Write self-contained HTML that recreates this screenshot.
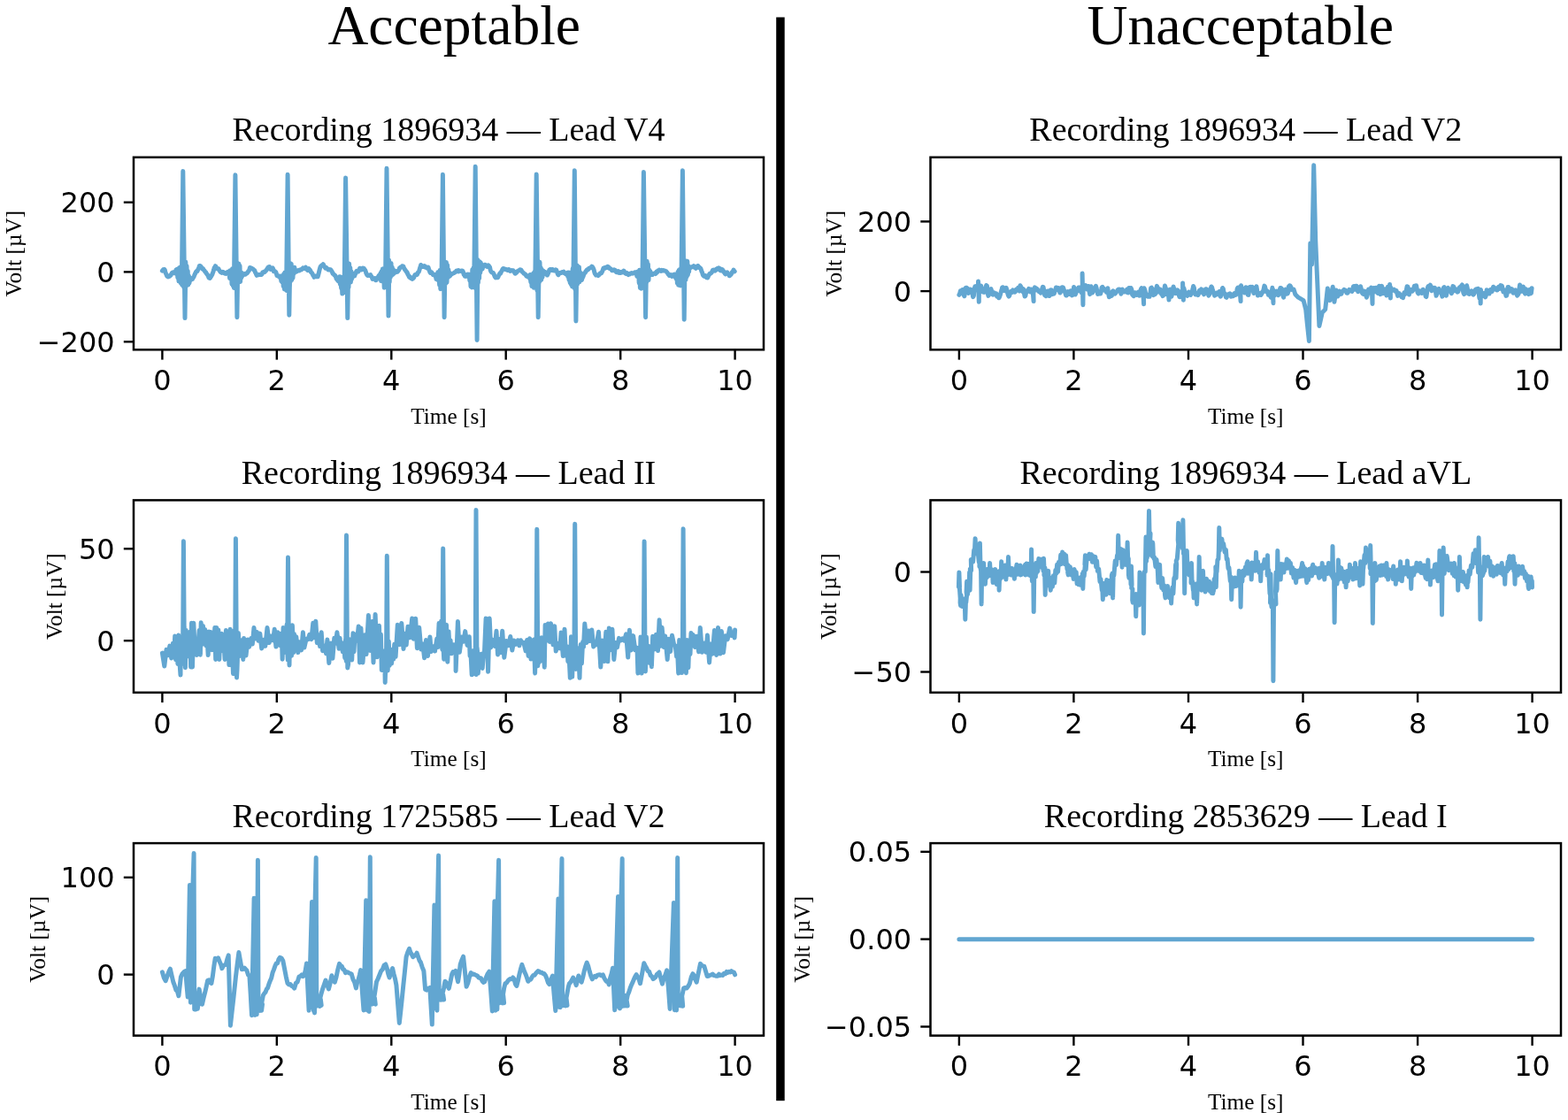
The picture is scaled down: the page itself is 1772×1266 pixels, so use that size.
<!DOCTYPE html>
<html><head><meta charset="utf-8"><title>ECG recordings: Acceptable vs Unacceptable</title>
<style>
html,body{margin:0;padding:0;background:#fff;overflow:hidden;}
svg{display:block;}
.t{font-family:'Liberation Serif', 'Times New Roman', serif;fill:#000;}
.n{font-family:'DejaVu Sans', 'Liberation Sans', sans-serif;fill:#000;font-size:32px;}
.sp{fill:none;stroke:#000;stroke-width:2.5;}
.tk{stroke:#000;stroke-width:2.4;}
.tr{fill:none;stroke:#62a6d1;stroke-width:5.0;stroke-linejoin:round;stroke-linecap:round;}
</style></head><body>
<svg width="1772" height="1266" viewBox="0 0 1772 1266">
<rect width="1772" height="1266" fill="#fff"/>

<text class="t" x="370.4" y="50" font-size="63.5">Acceptable</text>
<text class="t" x="1228.4" y="50" font-size="63.7">Unacceptable</text>
<rect x="877.2" y="19.5" width="9.5" height="1224.7" fill="#000"/>
<clipPath id="c0"><rect x="151.0" y="177.8" width="712.0" height="217.5"/></clipPath>
<path class="tr" clip-path="url(#c0)" d="M183.4 306.2L184.0 305.5L184.6 304.7L185.2 304.5L185.8 304.4L186.4 305.5L187.0 308.0L187.6 309.4L188.2 310.9L188.8 312.2L189.4 312.3L190.0 312.9L190.6 312.7L191.2 312.3L191.8 312.3L192.4 311.3L193.0 311.3L193.6 310.0L194.2 308.6L194.8 308.1L195.4 307.9L196.0 307.8L196.6 308.1L197.2 308.7L197.8 308.1L198.4 307.8L199.0 305.1L199.6 309.8L200.2 304.3L200.8 313.8L201.4 304.0L202.0 318.0L202.6 302.7L203.2 316.0L203.8 301.9L204.4 320.1L205.0 305.4L205.6 321.9L206.2 304.2L206.8 323.3L205.5 307.7L206.8 193.6L209.0 359.6L209.6 318.7L207.4 300.3L208.0 325.3L208.6 303.7L209.2 324.5L209.8 296.0L210.4 323.4L211.0 300.5L211.6 319.3L212.2 306.2L212.8 321.9L213.4 311.7L214.0 320.1L214.6 313.9L215.2 316.2L215.8 316.3L216.4 315.8L217.0 315.2L217.6 315.4L218.2 313.9L218.8 313.3L219.4 311.9L220.0 310.4L220.6 309.3L221.2 307.9L221.8 306.9L222.4 306.3L223.0 306.5L223.6 305.0L224.2 303.7L224.8 302.7L225.4 300.4L226.0 300.5L226.6 300.8L227.2 301.3L227.8 303.2L228.4 303.7L229.0 304.1L229.6 303.9L230.2 305.1L230.8 305.7L231.4 306.4L232.0 307.5L232.6 307.6L233.2 308.9L233.8 309.7L234.4 310.6L235.0 311.4L235.6 312.9L236.2 314.2L236.8 314.2L237.4 314.5L238.0 313.0L238.6 312.4L239.2 311.4L239.8 310.3L240.4 308.6L241.0 307.1L241.6 305.0L242.2 302.5L242.8 302.2L243.4 300.7L244.0 301.3L244.6 303.5L245.2 303.3L245.8 303.7L246.4 304.3L247.0 303.9L247.6 305.0L248.2 306.0L248.8 307.0L249.4 307.7L250.0 307.9L250.6 308.4L251.2 308.3L251.8 307.5L252.4 308.3L253.0 307.9L253.6 308.5L254.2 309.3L254.8 309.3L255.4 309.5L256.0 308.9L256.6 307.7L257.2 307.6L257.8 307.2L258.4 309.5L259.0 307.1L259.6 314.5L260.2 305.8L260.8 315.1L261.4 306.5L262.0 321.1L262.6 303.7L263.2 322.9L263.8 305.4L264.4 325.4L265.0 304.6L265.6 321.3L264.6 307.0L265.9 197.8L267.9 358.8L268.5 318.0L266.2 303.2L266.8 321.5L267.4 296.5L268.0 321.9L268.6 301.5L269.2 319.0L269.8 297.9L270.4 318.1L271.0 300.3L271.6 318.4L272.2 308.0L272.8 314.0L273.4 308.6L274.0 311.9L274.6 309.7L275.2 310.4L275.8 310.4L276.4 309.9L277.0 309.3L277.6 310.1L278.2 309.3L278.8 308.9L279.4 308.8L280.0 307.8L280.6 306.6L281.2 306.3L281.8 305.0L282.4 302.5L283.0 303.2L283.6 302.9L284.2 303.1L284.8 303.7L285.4 303.8L286.0 304.2L286.6 304.8L287.2 305.6L287.8 305.7L288.4 307.7L289.0 308.5L289.6 310.1L290.2 311.3L290.8 310.7L291.4 310.7L292.0 310.8L292.6 310.5L293.2 310.4L293.8 310.4L294.4 310.4L295.0 310.6L295.6 310.4L296.2 309.7L296.8 307.8L297.4 307.6L298.0 307.5L298.6 307.1L299.2 307.5L299.8 306.7L300.4 305.8L301.0 305.6L301.6 304.3L302.2 304.0L302.8 302.3L303.4 301.8L304.0 302.1L304.6 301.7L305.2 303.6L305.8 304.4L306.4 304.0L307.0 303.3L307.6 303.5L308.2 302.9L308.8 304.5L309.4 306.8L310.0 306.3L310.6 306.5L311.2 307.3L311.8 307.7L312.4 309.4L313.0 311.5L313.6 311.8L314.2 311.7L314.8 312.4L315.4 312.3L316.0 312.0L316.6 314.2L317.2 312.5L317.8 317.6L318.4 312.6L319.0 318.9L319.6 311.2L320.2 323.6L320.8 309.4L321.4 326.9L322.0 307.9L322.6 325.6L323.2 310.1L323.8 328.4L324.4 308.7L325.0 328.9L323.8 309.6L325.1 197.3L326.8 356.3L327.4 320.6L325.6 300.3L326.2 321.2L326.8 301.7L327.4 324.0L328.0 297.5L328.6 317.7L329.2 298.2L329.8 316.3L330.4 301.8L331.0 314.0L331.6 303.1L332.2 309.3L332.8 302.3L333.4 305.5L334.0 305.2L334.6 306.2L335.2 307.0L335.8 306.4L336.4 306.0L337.0 305.6L337.6 305.9L338.2 306.0L338.8 305.0L339.4 305.0L340.0 305.0L340.6 304.9L341.2 304.1L341.8 303.8L342.4 303.0L343.0 303.5L343.6 303.4L344.2 303.0L344.8 303.4L345.4 302.1L346.0 303.7L346.6 304.6L347.2 304.4L347.8 305.6L348.4 305.2L349.0 303.5L349.6 304.7L350.2 305.1L350.8 305.9L351.4 307.7L352.0 308.2L352.6 308.7L353.2 309.8L353.8 311.2L354.4 311.8L355.0 313.3L355.6 312.7L356.2 312.7L356.8 311.9L357.4 312.0L358.0 312.7L358.6 312.6L359.2 312.7L359.8 310.3L360.4 308.0L361.0 305.4L361.6 303.1L362.2 301.3L362.8 300.7L363.4 300.1L364.0 299.8L364.6 299.5L365.2 298.7L365.8 299.8L366.4 300.9L367.0 302.0L367.6 303.0L368.2 302.2L368.8 302.5L369.4 303.5L370.0 303.8L370.6 304.7L371.2 305.0L371.8 304.9L372.4 304.5L373.0 304.8L373.6 304.8L374.2 305.6L374.8 306.5L375.4 307.4L376.0 309.2L376.6 309.3L377.2 310.2L377.8 310.9L378.4 311.1L379.0 311.7L379.6 313.3L380.2 315.2L380.8 315.8L381.4 316.8L382.0 317.4L382.6 315.0L383.2 318.4L383.8 312.8L384.4 321.3L385.0 313.1L385.6 325.7L386.2 314.4L386.8 332.1L387.4 314.2L388.0 327.6L388.6 312.8L389.2 330.4L389.8 309.2L390.4 329.0L389.3 310.7L390.6 201.1L392.8 359.6L393.4 321.7L391.0 303.2L391.6 329.9L392.2 305.7L392.8 321.5L393.4 301.1L394.0 325.0L394.6 298.0L395.2 318.0L395.8 302.6L396.4 319.0L397.0 306.7L397.6 315.3L398.2 308.7L398.8 313.0L399.4 312.0L400.0 312.2L400.6 312.0L401.2 310.4L401.8 309.3L402.4 307.6L403.0 306.3L403.6 307.2L404.2 306.7L404.8 307.0L405.4 306.1L406.0 304.7L406.6 303.3L407.2 303.2L407.8 305.0L408.4 305.0L409.0 304.9L409.6 304.0L410.2 303.0L410.8 303.3L411.4 303.6L412.0 305.0L412.6 305.1L413.2 306.6L413.8 308.7L414.4 310.0L415.0 311.1L415.6 311.4L416.2 311.3L416.8 311.0L417.4 311.5L418.0 311.0L418.6 310.7L419.2 311.9L419.8 312.4L420.4 313.7L421.0 315.5L421.6 314.5L422.2 314.5L422.8 314.8L423.4 314.6L424.0 315.6L424.6 316.7L425.2 316.7L425.8 315.4L426.4 314.4L427.0 313.4L427.6 312.6L428.2 311.4L428.8 310.8L429.4 312.5L430.0 308.8L430.6 317.6L431.2 306.7L431.8 316.4L432.4 304.1L433.0 318.5L433.6 303.7L434.2 325.3L434.8 303.7L435.4 318.7L436.0 302.0L436.6 323.3L435.7 303.9L437.0 190.3L439.0 357.1L439.6 314.9L437.2 300.1L437.8 316.2L438.4 295.3L439.0 319.4L439.6 294.0L440.2 319.0L440.8 298.6L441.4 313.2L442.0 297.4L442.6 311.4L443.2 302.0L443.8 310.5L444.4 304.4L445.0 309.4L445.6 307.1L446.2 308.2L446.8 307.8L447.4 306.6L448.0 307.5L448.6 306.7L449.2 307.2L449.8 306.6L450.4 305.5L451.0 304.9L451.6 302.8L452.2 302.8L452.8 301.9L453.4 301.8L454.0 301.9L454.6 300.7L455.2 300.9L455.8 301.1L456.4 302.5L457.0 303.7L457.6 305.0L458.2 305.3L458.8 306.5L459.4 307.5L460.0 307.5L460.6 309.4L461.2 310.7L461.8 311.6L462.4 313.0L463.0 313.5L463.6 312.9L464.2 314.4L464.8 314.7L465.4 314.6L466.0 315.3L466.6 314.2L467.2 314.4L467.8 313.6L468.4 311.9L469.0 310.5L469.6 310.5L470.2 310.1L470.8 310.1L471.4 310.4L472.0 308.6L472.6 307.7L473.2 307.5L473.8 305.7L474.4 303.6L475.0 302.0L475.6 299.5L476.2 300.1L476.8 301.5L477.4 301.5L478.0 301.6L478.6 301.1L479.2 301.5L479.8 300.6L480.4 301.9L481.0 301.7L481.6 301.7L482.2 302.9L482.8 302.7L483.4 302.8L484.0 302.2L484.6 304.3L485.2 305.8L485.8 307.4L486.4 308.4L487.0 307.5L487.6 307.6L488.2 308.5L488.8 309.5L489.4 310.7L490.0 310.4L490.6 310.3L491.2 310.4L491.8 311.9L492.4 312.2L493.0 315.5L493.6 311.2L494.2 316.0L494.8 307.7L495.4 317.2L496.0 307.2L496.6 322.1L497.2 305.4L497.8 326.7L498.4 304.9L499.0 322.8L499.6 306.1L500.2 324.2L499.1 307.1L500.4 197.3L502.1 358.8L502.7 318.1L500.8 298.5L501.4 317.6L502.0 297.2L502.6 319.4L503.2 297.9L503.8 320.4L504.4 296.5L505.0 319.2L505.6 299.6L506.2 313.5L506.8 304.7L507.4 312.8L508.0 308.0L508.6 312.0L509.2 310.3L509.8 310.0L510.4 309.8L511.0 309.4L511.6 309.3L512.2 308.8L512.8 308.6L513.4 308.4L514.0 307.7L514.6 307.6L515.2 307.3L515.8 305.9L516.4 305.9L517.0 306.0L517.6 305.7L518.2 306.9L518.8 306.2L519.4 306.0L520.0 306.2L520.6 306.2L521.2 306.7L521.8 306.0L522.4 305.9L523.0 306.4L523.6 307.8L524.2 310.3L524.8 310.9L525.4 312.3L526.0 312.4L526.6 310.8L527.2 311.9L527.8 310.4L528.4 310.0L529.0 310.2L529.6 313.3L530.2 310.3L530.8 317.0L531.4 310.9L532.0 323.8L532.6 310.0L533.2 325.0L533.8 304.7L534.4 319.5L535.0 303.0L535.6 320.4L536.2 302.1L536.8 325.4L535.9 305.5L537.2 188.2L539.1 384.5L539.7 316.5L537.4 301.8L538.0 322.8L538.6 295.6L539.2 320.0L539.8 293.5L540.4 319.8L541.0 295.3L541.6 314.6L542.2 295.7L542.8 308.2L543.4 297.1L544.0 304.8L544.6 300.9L545.2 304.0L545.8 300.7L546.4 300.8L547.0 299.9L547.6 299.4L548.2 299.2L548.8 299.9L549.4 300.5L550.0 301.3L550.6 301.5L551.2 301.4L551.8 299.8L552.4 300.5L553.0 301.4L553.6 302.1L554.2 305.4L554.8 306.9L555.4 307.5L556.0 308.0L556.6 308.3L557.2 308.3L557.8 309.2L558.4 310.6L559.0 312.2L559.6 313.3L560.2 313.9L560.8 313.8L561.4 313.4L562.0 313.2L562.6 313.7L563.2 312.4L563.8 310.9L564.4 310.0L565.0 308.9L565.6 309.2L566.2 307.7L566.8 306.6L567.4 305.7L568.0 304.2L568.6 303.6L569.2 304.1L569.8 303.7L570.4 304.0L571.0 304.5L571.6 304.6L572.2 304.5L572.8 305.2L573.4 305.4L574.0 304.8L574.6 305.4L575.2 304.7L575.8 305.7L576.4 306.3L577.0 305.7L577.6 306.1L578.2 305.6L578.8 305.9L579.4 306.1L580.0 305.8L580.6 306.7L581.2 307.4L581.8 308.9L582.4 309.2L583.0 308.6L583.6 308.2L584.2 307.1L584.8 306.5L585.4 306.5L586.0 305.9L586.6 305.7L587.2 305.4L587.8 304.7L588.4 305.0L589.0 305.2L589.6 306.3L590.2 307.5L590.8 307.7L591.4 308.3L592.0 309.3L592.6 309.4L593.2 309.7L593.8 310.1L594.4 311.2L595.0 312.2L595.6 312.3L596.2 312.7L596.8 311.9L597.4 312.8L598.0 311.5L598.6 314.9L599.2 310.5L599.8 318.7L600.4 311.8L601.0 323.6L601.6 311.6L602.2 324.1L602.8 308.7L603.4 325.3L604.0 307.5L604.6 323.9L605.2 308.5L605.8 325.4L604.9 309.9L606.2 197.0L608.2 358.8L608.8 320.9L606.4 304.0L607.0 328.5L607.6 299.9L608.2 321.7L608.8 296.5L609.4 319.3L610.0 296.3L610.6 317.2L611.2 302.6L611.8 316.2L612.4 304.6L613.0 313.3L613.6 305.9L614.2 310.1L614.8 308.3L615.4 308.3L616.0 307.3L616.6 308.0L617.2 308.3L617.8 308.9L618.4 311.0L619.0 310.1L619.6 308.7L620.2 307.3L620.8 305.2L621.4 304.7L622.0 305.5L622.6 304.7L623.2 305.3L623.8 304.6L624.4 304.6L625.0 305.6L625.6 305.2L626.2 306.0L626.8 305.6L627.4 305.4L628.0 304.8L628.6 305.0L629.2 306.6L629.8 308.2L630.4 310.1L631.0 310.7L631.6 309.4L632.2 309.3L632.8 308.6L633.4 308.2L634.0 308.5L634.6 307.8L635.2 307.6L635.8 307.7L636.4 307.3L637.0 307.1L637.6 308.7L638.2 308.7L638.8 309.3L639.4 309.8L640.0 309.0L640.6 309.3L641.2 308.3L641.8 312.6L642.4 307.9L643.0 316.2L643.6 309.8L644.2 319.5L644.8 308.0L645.4 321.6L646.0 307.7L646.6 323.9L647.2 303.6L647.8 321.9L648.4 305.8L649.0 325.4L648.0 309.8L649.3 192.8L650.9 362.9L651.5 320.8L649.6 307.1L650.2 327.9L650.8 305.4L651.4 323.3L652.0 299.8L652.6 321.2L653.2 302.3L653.8 318.8L654.4 301.7L655.0 318.7L655.6 307.6L656.2 317.0L656.8 311.9L657.4 316.6L658.0 314.6L658.6 313.4L659.2 312.2L659.8 310.0L660.4 308.6L661.0 308.7L661.6 307.8L662.2 306.2L662.8 306.2L663.4 304.9L664.0 304.5L664.6 304.7L665.2 303.9L665.8 303.2L666.4 303.1L667.0 302.8L667.6 302.4L668.2 302.5L668.8 301.2L669.4 301.6L670.0 302.4L670.6 303.6L671.2 305.2L671.8 307.8L672.4 309.5L673.0 310.1L673.6 311.0L674.2 310.7L674.8 310.8L675.4 311.0L676.0 311.6L676.6 310.8L677.2 310.5L677.8 309.6L678.4 308.6L679.0 308.5L679.6 308.7L680.2 307.6L680.8 306.5L681.4 304.7L682.0 303.2L682.6 302.8L683.2 302.7L683.8 303.1L684.4 302.2L685.0 302.4L685.6 302.4L686.2 301.4L686.8 301.3L687.4 301.7L688.0 302.2L688.6 303.4L689.2 303.4L689.8 303.6L690.4 304.1L691.0 304.7L691.6 305.8L692.2 305.7L692.8 305.8L693.4 305.3L694.0 304.8L694.6 305.0L695.2 305.5L695.8 306.1L696.4 307.5L697.0 307.8L697.6 307.6L698.2 307.2L698.8 306.6L699.4 308.4L700.0 308.3L700.6 308.5L701.2 308.6L701.8 307.5L702.4 307.8L703.0 307.9L703.6 307.1L704.2 306.8L704.8 306.2L705.4 306.6L706.0 308.4L706.6 308.8L707.2 309.3L707.8 308.7L708.4 308.5L709.0 309.6L709.6 309.6L710.2 310.5L710.8 310.1L711.4 310.0L712.0 309.1L712.6 309.0L713.2 309.2L713.8 308.6L714.4 309.0L715.0 309.2L715.6 308.8L716.2 308.5L716.8 308.7L717.4 307.9L718.0 308.1L718.6 308.9L719.2 307.6L719.8 312.3L720.4 308.3L721.0 313.0L721.6 306.6L722.2 320.0L722.8 305.2L723.4 325.4L724.0 306.0L724.6 326.3L725.2 306.2L725.8 320.9L726.4 304.1L727.0 324.0L726.1 306.8L727.4 194.5L729.6 358.8L730.2 317.8L727.6 298.8L728.2 320.2L728.8 300.0L729.4 317.4L730.0 296.3L730.6 319.5L731.2 295.3L731.8 316.1L732.4 298.5L733.0 316.5L733.6 304.9L734.2 310.8L734.8 306.4L735.4 310.5L736.0 308.7L736.6 310.4L737.2 310.5L737.8 309.8L738.4 309.4L739.0 309.2L739.6 309.3L740.2 308.7L740.8 309.5L741.4 308.9L742.0 307.1L742.6 308.0L743.2 306.7L743.8 305.8L744.4 305.8L745.0 305.2L745.6 305.7L746.2 306.1L746.8 306.5L747.4 306.4L748.0 305.5L748.6 306.1L749.2 306.0L749.8 305.5L750.4 305.8L751.0 305.9L751.6 306.2L752.2 306.4L752.8 306.7L753.4 307.6L754.0 307.9L754.6 309.0L755.2 310.2L755.8 310.1L756.4 311.5L757.0 310.8L757.6 310.8L758.2 310.6L758.8 310.7L759.4 312.4L760.0 311.1L760.6 311.0L761.2 310.5L761.8 310.2L762.4 311.8L763.0 313.3L763.6 311.6L764.2 315.3L764.8 310.0L765.4 320.1L766.0 307.4L766.6 322.2L767.2 305.4L767.8 318.6L768.4 304.4L769.0 323.0L769.6 303.0L770.2 322.2L770.8 298.9L771.4 317.0L770.1 303.4L771.4 192.8L773.2 361.3L773.8 314.4L772.0 295.7L772.6 317.9L773.2 296.8L773.8 317.0L774.4 297.9L775.0 316.3L775.6 294.9L776.2 312.7L776.8 295.3L777.4 310.5L778.0 300.5L778.6 307.3L779.2 301.4L779.8 303.1L780.4 302.6L781.0 302.1L781.6 302.0L782.2 301.8L782.8 301.2L783.4 301.4L784.0 300.7L784.6 302.1L785.2 301.9L785.8 302.6L786.4 303.3L787.0 301.7L787.6 301.3L788.2 300.6L788.8 300.5L789.4 301.6L790.0 302.5L790.6 302.3L791.2 303.3L791.8 303.3L792.4 305.0L793.0 307.0L793.6 308.0L794.2 310.4L794.8 311.5L795.4 312.1L796.0 312.4L796.6 312.5L797.2 311.6L797.8 311.9L798.4 313.6L799.0 313.1L799.6 313.9L800.2 312.9L800.8 311.2L801.4 310.6L802.0 309.2L802.6 309.3L803.2 309.1L803.8 308.5L804.4 307.8L805.0 306.4L805.6 305.4L806.2 305.0L806.8 305.2L807.4 305.7L808.0 306.2L808.6 305.1L809.2 304.4L809.8 304.9L810.4 303.6L811.0 304.2L811.6 304.2L812.2 302.9L812.8 303.1L813.4 304.9L814.0 305.7L814.6 305.9L815.2 305.6L815.8 304.4L816.4 304.8L817.0 305.6L817.6 306.3L818.2 307.8L818.8 308.4L819.4 309.4L820.0 309.8L820.6 309.0L821.2 308.6L821.8 307.8L822.4 309.0L823.0 309.5L823.6 309.9L824.2 311.8L824.8 311.6L825.4 310.7L826.0 310.4L826.6 309.4L827.2 307.8L827.8 307.5L828.4 306.7L829.0 305.0L829.6 306.2L830.2 306.8"/>
<rect class="sp" x="151.0" y="177.8" width="712.0" height="217.5"/>
<text class="t" x="507.0" y="159.3" font-size="38" text-anchor="middle">Recording 1896934 — Lead V4</text>
<line class="tk" x1="183.4" y1="395.3" x2="183.4" y2="406.6"/>
<text class="n" x="183.4" y="441.1" text-anchor="middle">0</text>
<line class="tk" x1="312.8" y1="395.3" x2="312.8" y2="406.6"/>
<text class="n" x="312.8" y="441.1" text-anchor="middle">2</text>
<line class="tk" x1="442.3" y1="395.3" x2="442.3" y2="406.6"/>
<text class="n" x="442.3" y="441.1" text-anchor="middle">4</text>
<line class="tk" x1="571.7" y1="395.3" x2="571.7" y2="406.6"/>
<text class="n" x="571.7" y="441.1" text-anchor="middle">6</text>
<line class="tk" x1="701.2" y1="395.3" x2="701.2" y2="406.6"/>
<text class="n" x="701.2" y="441.1" text-anchor="middle">8</text>
<line class="tk" x1="830.6" y1="395.3" x2="830.6" y2="406.6"/>
<text class="n" x="830.6" y="441.1" text-anchor="middle">10</text>
<text class="t" x="507.0" y="478.6" font-size="25.3" text-anchor="middle">Time [s]</text>
<line class="tk" x1="139.8" y1="228.7" x2="151.0" y2="228.7"/>
<text class="n" x="129.6" y="240.3" text-anchor="end">200</text>
<line class="tk" x1="139.8" y1="307.4" x2="151.0" y2="307.4"/>
<text class="n" x="129.6" y="319.0" text-anchor="end">0</text>
<line class="tk" x1="139.8" y1="386.3" x2="151.0" y2="386.3"/>
<text class="n" x="129.6" y="397.9" text-anchor="end">−200</text>
<text class="t" font-size="25.3" text-anchor="middle" transform="translate(23.5,286.6) rotate(-90)">Volt [µV]</text>
<clipPath id="c1"><rect x="151.0" y="565.4" width="712.0" height="217.39999999999998"/></clipPath>
<path class="tr" clip-path="url(#c1)" d="M183.4 738.1L185.8 753.0L188.0 734.2L190.0 740.6L191.8 730.1L193.7 744.0L195.4 727.3L196.8 737.9L197.7 718.9L198.6 745.7L199.9 731.6L200.9 750.4L201.8 718.0L202.8 746.4L204.0 763.0L204.2 728.0L205.1 750.6L206.0 731.6L207.3 743.4L206.6 739.4L207.4 611.7L208.4 746.7L208.2 707.9L209.4 754.7L210.2 712.4L211.2 737.0L212.3 714.9L213.4 742.1L214.8 714.3L215.6 754.0L216.5 704.2L217.5 754.0L218.8 704.2L220.1 732.0L221.1 727.3L222.2 740.4L223.2 722.9L224.1 725.8L225.2 712.5L226.4 740.2L227.2 703.8L228.2 728.4L229.5 707.6L230.7 728.1L231.7 711.4L233.0 729.9L234.0 719.6L235.2 740.5L236.2 713.9L237.0 730.7L238.3 714.6L239.3 734.7L240.5 717.6L241.6 730.6L242.8 709.4L243.7 745.4L244.8 709.5L245.9 736.5L246.8 712.1L247.8 745.4L248.8 717.8L249.8 735.9L250.6 716.3L251.9 735.4L253.0 725.6L254.1 745.4L255.4 712.6L256.4 732.1L257.8 721.5L258.9 751.6L260.2 711.2L261.3 752.0L262.4 735.2L263.5 761.4L264.7 713.0L265.6 747.7L265.6 747.6L266.4 608.7L267.4 755.6L266.7 731.1L267.5 766.0L268.0 757.0L269.4 715.6L270.6 741.7L271.6 737.9L272.9 740.9L273.8 723.6L274.8 745.4L275.6 721.6L278.0 741.1L280.0 723.0L281.6 731.2L283.8 721.5L285.3 728.0L287.0 709.5L288.4 721.9L290.3 714.5L292.0 724.3L293.8 716.1L295.7 732.9L297.9 723.3L299.8 730.3L302.0 709.5L304.2 726.6L306.4 719.1L308.6 723.8L310.2 711.2L311.9 731.1L314.0 714.7L316.3 729.6L318.3 716.0L319.1 745.2L320.1 709.6L321.0 737.7L322.0 722.8L323.1 732.9L324.1 706.0L325.3 746.0L324.7 736.2L325.5 629.9L326.5 743.1L326.2 714.9L327.0 752.0L327.3 734.2L328.4 727.2L329.5 741.3L330.4 706.8L331.7 737.6L332.5 716.8L333.5 731.1L334.8 719.8L336.8 737.6L338.2 725.7L340.6 734.9L342.4 714.7L343.9 732.0L346.1 722.3L348.2 722.7L349.8 717.3L351.9 722.6L353.8 704.2L355.1 720.8L356.8 702.2L358.3 726.7L360.1 717.9L361.6 730.6L363.2 714.7L364.6 735.7L366.2 729.8L368.5 738.6L369.9 723.1L371.8 749.5L374.0 726.9L375.9 744.2L377.8 721.3L379.3 727.4L380.9 714.7L383.1 733.2L384.1 721.3L385.0 732.9L386.1 726.5L387.3 736.7L388.6 726.9L389.7 743.5L390.6 722.3L391.4 747.7L390.7 743.2L391.5 605.1L392.5 748.6L392.6 724.9L392.8 755.0L393.6 751.1L394.7 722.4L395.5 739.1L396.4 734.6L397.7 746.0L399.0 715.7L400.0 736.7L401.1 717.1L403.5 724.2L405.2 708.0L406.5 748.9L407.9 709.9L410.0 748.9L412.3 717.8L414.0 739.5L416.4 695.6L418.2 735.4L420.6 702.6L422.0 748.9L424.1 694.4L426.1 742.8L428.5 707.3L429.4 738.8L430.4 717.1L431.3 757.5L432.7 743.5L433.7 757.9L434.6 735.7L435.2 771.5L435.9 749.3L437.0 734.8L436.5 748.8L437.3 628.2L438.3 755.4L438.2 757.9L439.3 724.9L440.2 752.3L441.6 738.9L442.6 749.9L443.7 733.9L444.7 745.0L445.7 728.3L447.1 742.3L449.3 706.2L451.5 728.7L453.8 704.5L456.0 733.6L457.6 716.2L459.2 729.0L461.0 708.3L463.2 720.8L465.7 699.0L467.3 722.2L469.7 699.2L471.4 732.7L473.7 709.2L475.9 734.0L477.8 728.0L479.6 743.7L481.5 723.5L483.5 741.5L485.9 720.0L487.3 736.5L489.2 730.7L491.5 736.0L493.7 722.1L494.8 731.6L496.1 704.4L497.4 729.9L498.7 701.9L499.7 733.1L499.9 734.3L500.7 620.0L501.7 742.1L500.7 725.4L501.7 745.2L502.5 721.2L503.6 745.0L504.5 706.3L505.8 748.2L507.0 713.7L508.1 734.5L509.1 723.8L510.3 738.8L512.7 728.8L515.0 732.7L515.1 758.4L517.4 702.5L519.3 737.3L521.7 720.1L523.8 725.1L525.7 713.6L528.1 729.5L530.3 719.8L531.1 741.3L532.2 742.8L533.2 762.8L534.5 735.7L535.5 761.6L536.8 739.4L537.2 749.0L538.0 576.6L539.0 754.9L538.1 762.5L539.1 731.9L540.3 744.0L540.3 761.0L541.6 743.1L542.8 744.8L543.9 739.3L545.2 755.4L546.5 738.3L547.4 738.0L549.1 699.0L551.0 739.8L551.6 759.3L553.2 699.0L554.7 731.9L557.0 723.4L559.3 730.4L561.0 713.3L562.5 739.9L564.1 722.6L565.9 737.7L567.7 713.3L569.8 743.2L572.2 724.5L574.6 729.7L576.8 719.5L578.8 735.0L580.8 724.0L583.0 728.3L585.3 723.8L586.9 729.8L588.5 723.7L589.8 726.6L591.8 726.2L594.1 735.8L595.6 723.5L597.1 741.4L598.6 721.7L600.0 745.0L601.2 730.2L602.4 739.4L603.4 723.0L604.3 750.3L604.6 761.0L605.5 731.4L606.3 745.3L606.0 746.6L606.8 598.3L607.8 752.8L607.3 728.6L608.5 749.8L609.8 740.4L611.0 747.3L612.1 720.7L613.0 741.7L614.1 733.7L615.3 754.2L616.1 706.6L617.8 724.2L619.4 705.1L621.2 725.4L622.5 704.7L625.0 728.7L626.7 707.7L628.2 736.1L630.6 727.4L632.8 732.8L634.1 714.9L636.3 741.5L638.0 711.2L639.5 741.3L641.0 730.7L641.8 747.7L643.1 742.1L644.3 766.3L644.5 766.3L645.4 719.8L646.7 765.1L647.6 731.1L648.5 755.8L649.7 734.1L648.9 749.4L649.7 592.2L650.7 756.6L650.7 744.5L651.6 740.4L652.8 755.0L653.6 732.8L655.0 766.3L656.2 728.6L657.4 749.9L658.6 725.6L659.5 731.4L660.8 704.9L663.0 726.4L665.2 713.0L666.7 724.6L668.8 711.9L670.7 731.0L672.8 726.6L674.1 728.9L676.5 714.3L678.8 754.1L680.8 723.9L682.9 747.6L684.8 714.3L686.9 747.8L688.3 709.9L689.8 734.8L691.9 711.2L693.8 745.4L695.7 726.6L697.5 731.7L699.5 721.4L701.2 724.2L703.4 721.8L705.4 724.2L707.6 716.8L709.7 743.1L711.4 712.3L713.2 735.0L715.6 718.6L717.9 734.8L720.0 732.4L720.9 761.0L722.1 738.2L723.0 757.2L724.0 719.9L725.2 761.0L726.2 719.9L727.1 741.5L727.3 746.6L728.1 612.0L729.1 752.8L728.4 735.4L729.4 759.0L730.4 719.9L731.7 744.4L733.0 730.2L734.2 749.5L735.4 735.2L736.4 753.7L737.7 719.2L740.0 733.9L741.5 717.2L743.5 735.6L745.1 700.8L746.7 730.3L748.1 709.2L750.1 731.4L751.7 718.9L754.2 745.4L755.7 722.3L757.6 736.6L759.5 718.2L761.8 729.2L763.2 729.8L764.6 742.3L765.5 734.0L766.7 761.0L767.7 723.4L768.7 752.3L769.7 734.0L770.5 760.6L771.8 737.7L771.3 747.8L772.1 597.8L773.1 753.5L772.9 753.7L774.1 727.3L775.4 760.7L776.7 723.4L777.9 754.7L778.8 727.7L780.0 739.4L781.0 715.5L781.9 730.5L783.3 717.6L785.5 731.5L787.3 719.2L789.6 736.8L791.3 709.5L793.4 737.3L795.9 727.0L798.0 737.3L799.4 718.1L801.6 748.9L803.2 728.0L805.2 739.1L807.4 712.5L809.6 740.4L811.5 709.5L813.8 739.1L815.4 713.6L817.5 737.8L819.8 718.8L822.2 722.6L824.7 710.1L826.9 718.5L828.7 715.2L830.1 720.9L830.6 712.0"/>
<rect class="sp" x="151.0" y="565.4" width="712.0" height="217.4"/>
<text class="t" x="507.0" y="546.9" font-size="38" text-anchor="middle">Recording 1896934 — Lead II</text>
<line class="tk" x1="183.4" y1="782.8" x2="183.4" y2="794.1"/>
<text class="n" x="183.4" y="828.6" text-anchor="middle">0</text>
<line class="tk" x1="312.8" y1="782.8" x2="312.8" y2="794.1"/>
<text class="n" x="312.8" y="828.6" text-anchor="middle">2</text>
<line class="tk" x1="442.3" y1="782.8" x2="442.3" y2="794.1"/>
<text class="n" x="442.3" y="828.6" text-anchor="middle">4</text>
<line class="tk" x1="571.7" y1="782.8" x2="571.7" y2="794.1"/>
<text class="n" x="571.7" y="828.6" text-anchor="middle">6</text>
<line class="tk" x1="701.2" y1="782.8" x2="701.2" y2="794.1"/>
<text class="n" x="701.2" y="828.6" text-anchor="middle">8</text>
<line class="tk" x1="830.6" y1="782.8" x2="830.6" y2="794.1"/>
<text class="n" x="830.6" y="828.6" text-anchor="middle">10</text>
<text class="t" x="507.0" y="866.1" font-size="25.3" text-anchor="middle">Time [s]</text>
<line class="tk" x1="139.8" y1="620.3" x2="151.0" y2="620.3"/>
<text class="n" x="129.6" y="631.9" text-anchor="end">50</text>
<line class="tk" x1="139.8" y1="724.2" x2="151.0" y2="724.2"/>
<text class="n" x="129.6" y="735.8" text-anchor="end">0</text>
<text class="t" font-size="25.3" text-anchor="middle" transform="translate(70.4,674.1) rotate(-90)">Volt [µV]</text>
<clipPath id="c2"><rect x="151.0" y="953.1" width="712.0" height="217.4999999999999"/></clipPath>
<path class="tr" clip-path="url(#c2)" d="M183.4 1098.8L185.3 1105.3L187.2 1108.7L188.5 1105.0L189.8 1101.1L191.1 1097.7L192.4 1095.2L194.1 1102.7L195.8 1110.0L197.3 1113.9L198.9 1119.1L200.4 1120.4L201.9 1125.8L204.4 1104.2L206.1 1100.6L207.9 1098.7L209.6 1097.6L212.2 1127.0L214.4 1000.6L214.9 1003.4L215.4 1133.3L215.9 1002.5L216.4 1128.3L216.9 1003.1L217.4 1129.2L217.9 1002.7L219.1 964.5L219.7 1141.0L220.6 1129.3L221.5 1140.9L222.4 1130.2L223.3 1140.3L224.2 1133.9L221.7 1139.1L223.4 1128.9L225.1 1118.1L226.8 1127.6L228.5 1135.2L230.0 1128.5L231.6 1122.2L233.1 1115.6L234.6 1108.4L236.0 1107.9L237.5 1109.6L238.9 1111.5L240.3 1103.7L241.8 1092.2L243.2 1083.3L244.9 1084.5L246.6 1082.8L248.0 1086.7L249.5 1089.8L250.9 1094.7L252.3 1091.7L253.8 1090.9L255.2 1090.4L256.7 1084.6L258.2 1079.9L260.4 1159.2L262.1 1144.0L263.8 1129.2L266.4 1104.4L268.1 1090.3L269.9 1076.6L271.6 1086.3L273.3 1095.7L274.7 1095.6L276.2 1094.1L277.6 1095.5L279.0 1097.2L280.5 1101.9L281.9 1102.9L283.2 1123.8L284.5 1147.7L287.1 1015.3L287.6 1016.3L288.1 1147.4L288.6 1016.0L289.2 1146.0L289.7 1019.2L290.2 1146.8L291.4 972.2L292.0 1141.7L292.9 1130.8L293.8 1142.4L294.7 1137.2L295.6 1142.3L296.5 1135.1L294.0 1141.2L295.7 1133.9L297.4 1125.1L298.7 1122.9L300.0 1121.5L301.3 1118.2L302.6 1116.6L304.0 1112.1L305.4 1108.4L306.7 1105.5L308.1 1099.4L309.5 1095.8L310.9 1091.8L312.2 1088.9L313.6 1088.9L314.9 1084.4L316.3 1082.3L318.1 1083.0L319.8 1086.0L321.5 1094.8L323.3 1104.1L325.0 1111.5L326.5 1112.9L328.1 1112.6L329.6 1114.5L331.2 1115.2L332.7 1117.1L334.4 1111.2L336.2 1109.9L337.9 1104.1L339.4 1103.4L340.9 1101.9L342.4 1103.7L343.9 1101.9L345.2 1096.9L346.5 1088.9L347.8 1116.6L349.1 1142.3L352.5 1019.6L353.0 1023.5L353.5 1139.4L354.0 1023.6L354.5 1142.7L355.0 1021.5L355.5 1144.9L356.0 1022.7L357.2 969.6L357.8 1137.3L358.7 1131.4L359.6 1136.4L360.5 1128.3L361.4 1137.4L362.3 1129.2L363.2 1136.4L360.3 1135.2L361.7 1128.6L363.2 1122.7L364.6 1117.9L366.3 1113.0L368.0 1108.0L369.7 1113.3L371.4 1118.0L373.1 1111.6L374.9 1102.7L376.6 1107.9L378.3 1110.2L380.0 1104.5L381.8 1095.8L383.5 1089.3L384.9 1091.6L386.3 1092.2L387.6 1095.5L389.0 1096.2L390.4 1099.6L391.8 1098.7L393.2 1099.0L394.5 1099.9L395.9 1100.3L397.3 1101.2L399.0 1107.1L400.7 1110.3L402.4 1116.9L403.7 1110.6L405.0 1107.3L406.3 1102.3L407.6 1096.6L409.3 1119.9L411.0 1141.9L413.7 1017.8L414.3 1021.5L414.8 1141.8L415.4 1019.6L416.0 1142.5L416.5 1018.9L417.1 1143.5L418.3 968.8L418.9 1135.5L419.8 1129.6L420.7 1135.0L421.6 1126.3L422.5 1134.6L423.4 1127.9L424.3 1135.2L421.7 1133.7L423.6 1122.5L425.5 1109.8L427.2 1106.2L429.0 1101.7L430.7 1097.4L432.4 1095.7L434.1 1091.1L435.8 1090.0L437.2 1094.0L438.7 1100.7L440.1 1105.0L441.9 1098.7L443.6 1094.5L445.0 1100.9L446.5 1106.3L447.9 1113.4L449.6 1134.7L451.3 1156.4L452.7 1143.9L454.2 1129.8L455.6 1115.8L457.4 1098.5L459.1 1081.6L460.8 1076.3L462.5 1072.4L463.9 1076.5L465.4 1079.1L466.8 1081.7L468.2 1080.0L469.7 1079.9L471.1 1077.2L472.5 1081.3L474.0 1085.7L475.4 1087.7L477.1 1093.1L478.9 1097.5L480.6 1118.5L482.3 1119.1L484.1 1117.2L485.8 1116.4L488.3 1158.1L490.9 1023.0L491.4 1026.7L491.9 1140.1L492.4 1025.1L492.9 1137.1L493.4 1023.6L493.9 1142.2L494.4 1026.7L495.6 967.1L496.2 1129.6L497.1 1125.4L498.0 1130.3L498.9 1123.2L499.8 1129.9L500.7 1124.2L501.6 1130.0L498.7 1128.5L500.1 1122.8L501.6 1116.8L503.0 1109.3L504.4 1110.7L505.9 1114.5L507.3 1117.3L509.0 1109.6L510.7 1101.2L512.1 1098.5L513.6 1099.5L515.0 1097.3L516.3 1104.2L517.6 1109.7L518.9 1101.2L520.2 1090.0L521.9 1085.2L523.6 1081.2L525.4 1098.1L527.1 1115.2L528.8 1111.3L530.5 1104.4L532.2 1099.5L533.7 1101.4L535.1 1101.0L536.5 1101.6L538.0 1102.4L539.5 1103.0L540.9 1104.9L542.3 1105.6L543.6 1105.8L545.0 1108.9L546.3 1110.4L547.7 1109.8L549.4 1104.7L551.2 1100.6L552.9 1098.2L554.6 1119.0L556.3 1142.9L558.9 1018.7L559.4 1019.6L559.9 1142.2L560.4 1020.3L560.9 1137.5L561.4 1021.2L561.9 1140.9L562.4 1020.2L563.6 972.2L564.2 1134.0L565.1 1127.8L566.0 1132.7L566.9 1122.4L567.8 1133.9L568.7 1124.8L569.6 1133.8L566.7 1132.3L568.1 1126.8L569.6 1117.1L571.0 1111.6L572.4 1111.1L573.9 1108.8L575.3 1107.3L576.7 1106.4L578.2 1106.7L579.6 1105.0L581.0 1106.6L582.5 1112.5L583.9 1114.4L585.4 1108.6L586.9 1101.6L588.4 1095.5L589.9 1090.4L591.3 1094.7L592.7 1098.4L594.0 1101.2L595.4 1105.0L596.8 1109.3L598.3 1107.5L599.8 1107.2L601.3 1104.3L602.8 1102.4L604.1 1102.3L605.4 1100.4L606.7 1099.0L608.0 1097.6L609.4 1098.1L610.8 1099.3L612.1 1099.2L613.5 1100.5L614.9 1100.4L616.4 1102.4L617.9 1105.9L619.4 1110.7L620.9 1112.6L622.6 1107.5L624.4 1103.1L626.1 1123.8L627.8 1142.4L630.9 1016.1L631.5 1016.2L632.1 1138.4L632.6 1018.6L633.2 1138.8L633.8 1019.6L635.0 970.5L635.6 1136.7L636.5 1127.6L637.4 1136.4L638.3 1127.8L639.2 1137.1L640.1 1128.7L641.0 1136.5L638.1 1135.5L639.4 1131.0L640.8 1123.8L642.1 1116.4L643.4 1111.7L644.8 1110.3L646.3 1107.8L647.7 1105.0L649.5 1108.6L651.2 1113.6L653.8 1103.0L655.5 1107.7L657.2 1110.1L658.7 1104.6L660.2 1097.7L661.7 1092.3L663.2 1088.2L664.7 1092.0L666.2 1097.8L667.8 1103.2L669.3 1106.8L670.7 1104.6L672.1 1103.3L673.4 1104.3L674.8 1102.6L676.2 1101.9L677.9 1101.7L679.6 1102.8L681.3 1101.8L682.7 1105.3L684.1 1107.7L685.4 1109.3L686.8 1109.1L688.2 1112.9L689.6 1105.5L691.1 1100.7L692.5 1094.3L694.7 1141.8L698.5 1013.5L699.0 1014.1L699.5 1138.7L700.0 1014.6L700.5 1139.9L701.0 1014.4L701.5 1138.6L702.0 1014.8L703.2 970.5L703.8 1137.3L704.7 1127.1L705.6 1137.1L706.5 1125.5L707.4 1136.9L708.3 1131.3L709.2 1137.0L706.3 1135.7L707.8 1132.3L709.3 1124.7L710.8 1121.3L712.3 1116.4L713.7 1113.1L715.1 1110.2L716.4 1106.8L717.8 1103.9L719.2 1101.7L720.6 1104.2L722.1 1107.1L723.5 1111.7L724.9 1104.2L726.4 1096.2L727.8 1088.7L729.3 1091.9L730.7 1094.3L732.2 1097.8L733.7 1098.4L735.2 1102.7L736.6 1103.6L738.1 1106.6L739.5 1105.6L740.9 1104.5L742.2 1101.7L743.6 1100.4L745.0 1099.0L746.8 1106.0L748.5 1112.2L750.2 1105.9L751.9 1102.1L753.6 1096.9L755.4 1117.4L757.1 1140.4L761.4 1020.4L761.9 1022.6L762.4 1141.8L763.0 1021.5L763.5 1139.9L764.0 1022.0L764.5 1142.1L765.7 969.6L766.3 1137.0L767.2 1130.2L768.1 1136.7L769.0 1126.0L769.9 1137.0L770.8 1126.8L771.7 1137.2L769.1 1135.1L770.9 1125.1L772.6 1116.9L774.3 1116.5L776.0 1117.0L777.7 1114.7L779.4 1111.7L781.2 1104.6L782.9 1100.7L784.3 1102.7L785.8 1107.1L787.2 1110.2L788.6 1103.0L790.1 1095.9L791.5 1089.4L792.9 1091.1L794.4 1091.9L795.8 1092.1L797.5 1097.9L799.2 1103.4L800.7 1103.2L802.2 1102.4L803.8 1102.1L805.3 1101.0L806.7 1102.6L808.2 1102.9L809.6 1103.3L811.0 1103.2L812.5 1101.1L813.9 1102.6L815.3 1101.9L816.8 1102.5L818.2 1100.3L819.6 1100.8L821.1 1098.5L822.5 1099.4L823.9 1098.3L825.3 1098.9L826.6 1097.7L828.0 1098.8L829.4 1098.9L830.6 1101.8"/>
<rect class="sp" x="151.0" y="953.1" width="712.0" height="217.5"/>
<text class="t" x="507.0" y="934.6" font-size="38" text-anchor="middle">Recording 1725585 — Lead V2</text>
<line class="tk" x1="183.4" y1="1170.6" x2="183.4" y2="1181.9"/>
<text class="n" x="183.4" y="1216.4" text-anchor="middle">0</text>
<line class="tk" x1="312.8" y1="1170.6" x2="312.8" y2="1181.9"/>
<text class="n" x="312.8" y="1216.4" text-anchor="middle">2</text>
<line class="tk" x1="442.3" y1="1170.6" x2="442.3" y2="1181.9"/>
<text class="n" x="442.3" y="1216.4" text-anchor="middle">4</text>
<line class="tk" x1="571.7" y1="1170.6" x2="571.7" y2="1181.9"/>
<text class="n" x="571.7" y="1216.4" text-anchor="middle">6</text>
<line class="tk" x1="701.2" y1="1170.6" x2="701.2" y2="1181.9"/>
<text class="n" x="701.2" y="1216.4" text-anchor="middle">8</text>
<line class="tk" x1="830.6" y1="1170.6" x2="830.6" y2="1181.9"/>
<text class="n" x="830.6" y="1216.4" text-anchor="middle">10</text>
<text class="t" x="507.0" y="1253.9" font-size="25.3" text-anchor="middle">Time [s]</text>
<line class="tk" x1="139.8" y1="991.8" x2="151.0" y2="991.8"/>
<text class="n" x="129.6" y="1003.4" text-anchor="end">100</text>
<line class="tk" x1="139.8" y1="1101.6" x2="151.0" y2="1101.6"/>
<text class="n" x="129.6" y="1113.2" text-anchor="end">0</text>
<text class="t" font-size="25.3" text-anchor="middle" transform="translate(50.8,1061.8) rotate(-90)">Volt [µV]</text>
<clipPath id="c3"><rect x="1051.5" y="177.8" width="712.5" height="217.5"/></clipPath>
<path class="tr" clip-path="url(#c3)" d="M1083.9 333.3L1084.6 332.1L1085.4 328.7L1086.1 329.6L1086.9 330.7L1087.6 327.5L1088.4 327.5L1089.1 333.6L1089.9 334.7L1090.6 326.4L1091.4 325.4L1092.1 325.2L1092.9 325.5L1093.6 329.3L1094.4 331.4L1095.1 328.5L1095.9 327.1L1096.6 327.1L1097.4 327.4L1098.1 327.8L1098.9 331.8L1099.6 335.6L1100.4 334.4L1101.1 326.6L1101.9 323.8L1102.6 324.0L1103.4 323.5L1104.1 323.1L1104.9 326.5L1105.6 329.5L1105.5 318.0L1106.3 341.3L1106.4 327.7L1107.1 324.2L1107.9 322.9L1108.6 322.9L1109.4 326.0L1110.1 329.3L1110.9 330.0L1111.6 328.8L1112.4 330.3L1113.1 329.7L1113.9 325.4L1114.6 322.5L1115.4 323.0L1116.1 331.2L1116.9 334.4L1117.6 333.1L1118.4 331.0L1119.1 328.2L1119.9 326.5L1120.6 328.6L1121.4 332.5L1122.1 333.1L1122.9 330.6L1123.6 330.8L1124.4 332.8L1125.1 331.8L1125.9 331.8L1126.6 335.1L1127.4 334.4L1128.1 333.5L1128.9 336.8L1129.6 335.5L1130.4 333.1L1131.1 330.6L1131.9 328.0L1132.6 325.0L1133.4 324.8L1134.1 328.4L1134.9 327.9L1135.6 328.6L1136.4 327.6L1137.1 325.3L1137.9 328.0L1138.6 331.0L1139.4 333.8L1140.1 335.1L1140.9 334.0L1141.6 331.1L1142.4 329.5L1143.1 330.1L1143.9 330.5L1144.6 327.9L1145.4 328.5L1146.1 329.9L1146.9 330.3L1147.6 329.4L1148.4 327.1L1149.1 327.2L1149.9 327.8L1150.6 325.2L1151.4 327.7L1152.1 329.0L1152.9 322.8L1153.6 323.7L1154.4 326.8L1155.1 328.4L1155.9 329.9L1156.6 326.6L1157.4 331.5L1158.1 335.0L1158.9 334.3L1159.6 330.7L1160.4 328.9L1161.1 328.4L1161.9 328.6L1162.6 326.4L1163.4 328.1L1164.1 330.0L1164.9 327.1L1165.6 326.9L1166.4 327.9L1167.1 328.0L1168.1 340.6L1167.9 330.7L1168.6 329.1L1169.4 324.9L1170.1 325.8L1170.9 325.9L1171.6 326.2L1172.4 327.0L1173.1 328.5L1173.9 329.6L1174.6 329.4L1175.4 330.1L1176.1 331.1L1176.9 330.0L1177.6 326.7L1178.4 324.3L1179.1 324.6L1179.9 329.2L1180.6 333.6L1181.4 334.1L1182.1 334.6L1182.9 331.0L1183.6 329.1L1184.4 329.1L1185.1 331.5L1185.9 334.5L1186.6 333.3L1187.4 327.7L1188.1 327.7L1188.9 332.7L1189.6 331.9L1190.4 331.0L1191.1 332.0L1191.9 330.0L1192.6 328.1L1193.4 325.0L1194.1 324.9L1194.9 327.5L1195.6 326.4L1196.4 325.7L1197.1 328.4L1197.9 331.0L1198.6 330.2L1199.4 327.0L1200.1 324.8L1200.9 324.8L1201.6 325.1L1202.4 327.9L1203.1 329.4L1203.9 331.4L1204.6 333.9L1205.4 334.0L1206.1 331.1L1206.9 329.6L1207.6 329.8L1208.4 332.5L1209.1 331.1L1209.9 328.7L1210.6 331.2L1211.4 333.9L1212.1 333.5L1212.9 330.4L1213.6 324.4L1214.4 326.3L1215.1 333.1L1215.9 331.4L1216.6 327.5L1217.4 329.3L1218.1 327.7L1218.9 325.0L1219.6 324.9L1220.4 325.2L1221.1 328.8L1221.9 330.6L1222.6 329.9L1223.4 330.8L1223.1 309.0L1223.9 344.8L1224.1 328.2L1224.9 322.9L1225.6 322.8L1226.4 323.7L1227.1 322.7L1227.9 324.6L1228.6 326.9L1229.4 325.9L1230.1 323.5L1230.9 328.5L1231.6 332.6L1232.4 326.6L1233.1 323.7L1233.9 327.9L1234.6 331.0L1235.4 328.7L1236.1 327.3L1236.9 328.3L1237.6 325.7L1238.4 323.3L1239.1 325.5L1239.9 329.0L1240.6 332.4L1241.4 332.2L1242.1 331.4L1242.9 332.1L1243.6 332.1L1244.4 329.7L1245.1 324.9L1245.9 324.3L1246.6 327.2L1247.4 326.1L1248.1 327.1L1248.9 328.6L1249.6 328.3L1250.4 330.2L1251.1 329.7L1251.9 325.8L1252.6 331.7L1253.4 335.8L1254.1 333.1L1254.9 331.5L1255.6 334.6L1256.4 334.4L1257.1 329.6L1257.9 328.8L1258.6 330.9L1259.4 331.4L1260.1 332.1L1260.9 331.0L1261.6 330.3L1262.4 329.0L1263.1 327.8L1263.9 327.1L1264.6 328.3L1265.4 327.1L1266.1 328.4L1266.9 332.2L1267.6 329.7L1268.4 327.1L1269.1 329.5L1269.9 330.1L1270.6 329.9L1271.4 329.8L1272.1 329.9L1272.9 328.6L1273.6 327.1L1274.4 330.9L1275.1 331.0L1275.9 325.5L1276.6 326.2L1277.4 329.0L1278.1 325.5L1278.9 327.2L1279.6 333.0L1280.4 333.9L1281.1 334.7L1281.9 334.1L1282.6 330.7L1283.4 331.8L1284.1 333.0L1284.9 333.4L1285.6 331.0L1286.4 330.1L1287.1 331.5L1287.9 334.2L1288.6 331.5L1289.4 326.7L1290.1 325.7L1290.9 327.6L1291.6 327.5L1292.6 343.8L1292.4 325.9L1293.1 325.7L1293.9 328.0L1294.6 331.4L1295.4 332.5L1296.1 333.9L1296.9 335.1L1297.6 335.3L1298.4 335.1L1299.1 335.3L1299.9 331.8L1300.6 325.7L1301.4 325.2L1302.1 326.4L1302.9 332.5L1303.6 333.5L1304.4 331.6L1305.1 332.8L1305.9 331.9L1306.6 326.7L1307.4 323.4L1308.1 324.8L1308.9 328.4L1309.6 329.9L1310.4 328.4L1311.1 327.0L1311.9 330.7L1312.6 332.5L1313.4 333.1L1314.1 334.6L1314.9 333.8L1315.6 328.4L1316.4 323.0L1317.1 324.8L1317.9 331.2L1318.6 332.7L1319.4 329.5L1320.1 327.9L1321.0 339.0L1320.9 328.7L1321.6 329.1L1322.4 327.2L1323.1 329.5L1323.9 335.3L1324.6 332.2L1325.4 326.1L1326.1 324.2L1326.9 326.8L1327.6 331.4L1328.4 331.6L1329.1 329.6L1329.9 328.9L1330.6 327.8L1331.4 328.4L1332.1 333.1L1332.9 335.6L1333.6 335.7L1334.4 331.1L1335.1 329.8L1335.9 332.2L1336.6 329.4L1336.6 320.0L1337.4 339.2L1337.4 324.9L1338.1 326.5L1338.9 330.2L1339.6 331.3L1340.4 331.9L1341.1 333.8L1341.9 334.3L1342.6 332.2L1343.4 330.0L1344.1 330.1L1344.9 332.4L1345.6 333.4L1346.4 331.5L1347.1 330.3L1347.9 326.9L1348.6 323.5L1349.4 325.3L1350.1 330.4L1350.9 332.9L1351.6 332.9L1352.4 331.3L1353.1 332.2L1353.9 333.6L1354.6 332.2L1355.4 328.4L1356.1 328.0L1356.9 327.9L1357.6 326.8L1358.4 329.7L1359.1 331.0L1359.9 331.1L1360.6 332.8L1361.4 330.0L1362.1 327.0L1362.9 326.7L1363.6 326.9L1364.4 328.9L1365.1 331.8L1365.9 334.1L1366.6 332.9L1367.4 330.3L1368.1 326.6L1368.9 324.0L1369.6 324.7L1370.4 327.8L1371.1 330.1L1371.9 332.1L1372.6 334.1L1373.4 333.6L1374.1 331.8L1374.9 330.9L1375.6 330.9L1376.4 332.7L1377.1 332.0L1377.9 329.5L1378.6 333.8L1379.4 335.2L1380.1 332.5L1380.9 327.7L1381.6 325.5L1382.4 326.5L1383.1 331.4L1383.9 331.4L1384.6 333.0L1385.4 335.9L1386.1 336.3L1386.9 333.1L1387.6 332.8L1388.4 334.0L1389.1 332.4L1389.9 331.8L1390.6 332.5L1391.4 335.2L1392.1 334.8L1392.9 333.1L1393.6 334.7L1394.4 334.0L1395.1 331.5L1395.9 332.1L1396.6 333.4L1397.4 332.0L1398.1 326.8L1398.9 324.9L1399.6 324.9L1400.4 325.4L1401.1 328.0L1402.1 340.6L1401.9 326.7L1402.6 322.8L1403.4 326.4L1404.1 330.4L1404.9 328.6L1405.6 328.8L1406.4 330.9L1407.1 327.9L1407.9 324.8L1408.6 324.9L1409.4 328.9L1410.1 333.2L1410.9 333.4L1411.6 329.2L1412.4 324.5L1413.1 324.3L1413.9 325.9L1414.6 325.5L1415.4 324.4L1416.1 328.3L1416.9 331.5L1417.6 330.4L1418.4 329.0L1419.1 325.4L1419.9 323.8L1420.6 327.7L1421.4 334.0L1422.1 333.6L1422.9 331.5L1423.6 331.5L1424.4 332.2L1425.1 333.3L1425.9 331.9L1426.6 329.7L1427.4 329.9L1428.1 326.9L1428.9 323.1L1429.6 324.2L1430.4 327.7L1431.1 329.6L1431.9 328.8L1432.6 330.6L1433.4 333.3L1434.1 330.4L1434.9 330.2L1435.6 334.8L1436.4 336.2L1437.1 331.1L1437.9 325.3L1439.0 342.7L1438.6 327.2L1439.4 331.5L1440.1 334.3L1440.9 332.9L1441.6 329.7L1442.4 329.2L1443.1 331.6L1443.9 333.1L1444.6 333.6L1445.4 332.3L1446.1 328.3L1446.9 325.5L1447.6 325.4L1448.4 326.2L1449.1 328.2L1449.9 334.1L1450.6 336.2L1451.4 331.6L1452.1 328.2L1452.9 327.2L1453.6 329.1L1454.4 332.1L1455.1 331.9L1455.9 329.6L1456.6 325.0L1456.3 324.1L1457.4 322.7L1458.1 323.0L1458.9 324.6L1459.6 327.4L1460.4 327.0L1462.0 327.0L1463.8 332.8L1467.2 336.2L1473.1 339.6L1475.7 349.8L1477.4 366.8L1479.4 385.5L1480.8 275.1L1482.5 298.9L1484.7 186.8L1486.7 271.7L1490.9 368.5L1494.3 353.2L1497.7 349.8L1500.3 326.0L1502.8 339.6L1506.2 324.3L1507.9 341.3L1510.0 328.0L1510.6 329.7L1511.4 335.1L1512.1 334.5L1512.9 330.8L1513.6 329.1L1514.4 330.9L1515.1 332.4L1515.9 332.2L1516.6 330.0L1517.4 329.0L1518.1 328.4L1518.9 327.5L1519.6 328.3L1520.4 328.0L1521.1 328.7L1521.9 331.1L1522.6 331.3L1523.4 330.6L1524.1 329.0L1524.9 327.4L1525.6 327.8L1526.4 328.6L1527.1 328.3L1527.9 329.4L1528.6 327.5L1529.4 323.9L1530.1 323.5L1530.9 325.7L1531.6 327.2L1532.4 323.3L1533.1 323.2L1533.9 325.6L1534.6 329.7L1535.4 327.9L1536.1 326.5L1536.9 325.1L1537.6 323.8L1538.4 326.8L1539.1 330.6L1539.9 331.8L1540.6 332.4L1541.4 330.4L1542.1 329.1L1542.9 329.7L1543.6 333.7L1544.4 336.1L1545.1 334.3L1545.9 330.5L1546.6 327.1L1547.4 328.7L1548.1 330.9L1548.9 327.4L1549.6 325.1L1550.4 327.0L1551.0 343.5L1551.1 330.2L1551.9 330.0L1552.6 325.4L1553.4 327.3L1554.1 329.7L1554.9 325.3L1555.6 325.6L1556.4 330.3L1557.1 331.4L1557.9 324.9L1558.6 323.3L1559.4 330.3L1560.1 332.7L1560.9 326.1L1561.6 323.4L1562.4 328.9L1563.1 331.6L1563.9 331.3L1564.6 329.4L1565.4 326.8L1566.1 328.7L1566.9 334.1L1567.6 332.2L1568.4 324.2L1569.1 326.2L1569.9 332.0L1570.6 328.4L1570.6 321.5L1571.4 337.0L1571.4 324.5L1572.1 327.2L1572.9 328.7L1573.6 328.0L1574.4 327.5L1575.1 327.1L1575.9 327.9L1576.6 329.0L1577.4 328.3L1578.1 328.6L1578.9 331.8L1579.6 334.4L1580.4 333.3L1581.1 331.6L1581.9 332.6L1582.6 333.9L1583.4 334.7L1584.1 335.8L1584.9 335.9L1585.6 336.5L1586.4 332.3L1587.1 330.5L1587.9 332.6L1588.6 331.9L1589.4 327.5L1590.1 323.8L1590.9 323.9L1591.6 328.7L1592.4 333.0L1593.1 330.5L1593.9 327.4L1594.6 328.3L1595.4 328.1L1596.1 329.1L1596.9 328.2L1597.6 325.7L1598.4 323.2L1599.1 323.1L1599.9 323.1L1600.6 322.9L1601.4 327.2L1602.1 330.8L1602.9 331.9L1603.6 330.5L1604.4 328.8L1605.1 329.3L1605.9 330.1L1606.6 331.5L1607.4 330.4L1608.1 327.3L1608.9 328.5L1609.6 329.6L1610.4 330.0L1611.1 334.9L1611.9 335.5L1612.6 330.6L1613.4 325.2L1614.1 323.5L1614.9 324.6L1615.6 323.7L1616.4 322.2L1617.1 326.3L1617.9 328.8L1618.6 326.5L1619.4 325.1L1620.1 326.8L1620.9 327.8L1621.6 325.4L1622.4 329.2L1623.1 334.3L1623.9 332.5L1624.6 330.7L1625.4 328.5L1626.1 326.4L1626.9 329.1L1627.6 330.3L1628.4 328.3L1629.1 331.4L1629.9 335.1L1630.6 332.3L1631.4 325.3L1632.1 324.6L1632.9 326.0L1633.6 331.6L1634.4 334.2L1635.1 331.2L1635.9 326.5L1636.6 325.5L1637.4 328.7L1638.1 328.4L1638.9 327.0L1639.6 329.3L1640.4 331.6L1641.1 329.8L1641.9 323.6L1642.6 323.8L1643.4 325.6L1644.1 328.8L1644.9 328.1L1645.6 326.9L1646.4 327.7L1647.1 330.2L1647.9 329.7L1648.6 327.0L1649.4 324.9L1650.1 325.4L1650.9 325.8L1651.6 323.0L1652.4 321.9L1653.1 326.7L1653.9 331.2L1654.6 332.6L1655.4 331.7L1656.1 328.8L1656.9 324.7L1657.6 322.7L1658.4 326.4L1659.1 331.5L1659.9 332.4L1660.6 332.5L1661.4 332.0L1662.1 329.2L1662.9 328.9L1663.6 330.0L1664.4 332.2L1665.1 333.1L1665.9 332.0L1666.6 329.9L1667.4 327.4L1668.1 326.8L1668.9 328.4L1669.6 329.3L1670.4 326.2L1671.1 330.7L1671.9 336.8L1672.6 332.0L1673.2 343.0L1673.4 327.4L1674.1 331.5L1674.9 334.6L1675.6 333.5L1676.4 332.9L1677.1 331.5L1677.9 333.5L1678.6 335.9L1679.4 333.9L1680.1 327.8L1680.9 328.1L1681.6 330.3L1682.4 331.6L1683.1 331.9L1683.9 329.4L1684.6 327.2L1685.4 329.6L1686.1 329.5L1686.9 326.7L1687.6 324.2L1688.4 325.2L1689.1 326.9L1689.9 326.7L1690.6 325.8L1691.4 327.9L1692.1 327.9L1692.9 325.5L1693.6 324.3L1694.4 326.4L1695.1 326.1L1695.9 322.6L1696.6 322.8L1697.4 323.2L1698.1 326.5L1698.9 329.9L1699.6 328.7L1700.4 327.8L1701.1 329.3L1701.9 334.4L1702.6 334.1L1703.4 330.6L1704.1 324.4L1704.9 324.5L1705.6 329.4L1706.4 329.2L1707.1 327.2L1707.9 326.5L1708.6 326.6L1709.4 329.3L1710.1 331.2L1710.9 329.9L1711.6 328.3L1712.4 327.9L1713.1 328.7L1713.9 332.2L1714.6 334.1L1715.4 333.2L1716.1 332.1L1716.9 326.4L1717.6 322.0L1718.4 326.2L1719.1 329.4L1719.9 328.2L1720.6 326.8L1721.4 324.1L1722.1 326.2L1722.9 330.8L1723.6 332.1L1724.4 326.8L1725.1 327.4L1725.9 330.3L1726.6 331.2L1727.4 332.5L1728.1 330.2L1728.9 327.2L1729.6 331.9L1730.4 331.4L1731.1 325.7"/>
<rect class="sp" x="1051.5" y="177.8" width="712.5" height="217.5"/>
<text class="t" x="1407.8" y="159.3" font-size="38" text-anchor="middle">Recording 1896934 — Lead V2</text>
<line class="tk" x1="1083.9" y1="395.3" x2="1083.9" y2="406.6"/>
<text class="n" x="1083.9" y="441.1" text-anchor="middle">0</text>
<line class="tk" x1="1213.4" y1="395.3" x2="1213.4" y2="406.6"/>
<text class="n" x="1213.4" y="441.1" text-anchor="middle">2</text>
<line class="tk" x1="1343.0" y1="395.3" x2="1343.0" y2="406.6"/>
<text class="n" x="1343.0" y="441.1" text-anchor="middle">4</text>
<line class="tk" x1="1472.5" y1="395.3" x2="1472.5" y2="406.6"/>
<text class="n" x="1472.5" y="441.1" text-anchor="middle">6</text>
<line class="tk" x1="1602.1" y1="395.3" x2="1602.1" y2="406.6"/>
<text class="n" x="1602.1" y="441.1" text-anchor="middle">8</text>
<line class="tk" x1="1731.6" y1="395.3" x2="1731.6" y2="406.6"/>
<text class="n" x="1731.6" y="441.1" text-anchor="middle">10</text>
<text class="t" x="1407.8" y="478.6" font-size="25.3" text-anchor="middle">Time [s]</text>
<line class="tk" x1="1040.3" y1="250.4" x2="1051.5" y2="250.4"/>
<text class="n" x="1030.1" y="262.0" text-anchor="end">200</text>
<line class="tk" x1="1040.3" y1="329.1" x2="1051.5" y2="329.1"/>
<text class="n" x="1030.1" y="340.7" text-anchor="end">0</text>
<text class="t" font-size="25.3" text-anchor="middle" transform="translate(951.3,286.6) rotate(-90)">Volt [µV]</text>
<clipPath id="c4"><rect x="1051.5" y="565.4" width="712.5" height="217.39999999999998"/></clipPath>
<path class="tr" clip-path="url(#c4)" d="M1083.4 663.4L1083.9 646.9L1084.5 663.4L1083.9 657.7L1085.2 676.4L1085.1 681.4L1085.6 684.6L1086.2 676.1L1086.1 672.8L1087.3 685.5L1088.6 677.5L1089.6 685.6L1090.3 681.5L1090.8 700.2L1091.4 681.5L1090.8 676.5L1091.8 680.9L1092.6 672.7L1092.1 669.2L1092.6 657.3L1093.2 669.2L1093.6 671.8L1094.4 660.6L1095.4 656.5L1095.6 646.9L1096.1 667.2L1096.7 646.9L1096.3 643.2L1097.6 644.9L1097.3 632.6L1097.8 633.0L1098.4 634.2L1098.7 632.0L1099.6 635.1L1100.7 621.7L1101.9 626.0L1101.6 619.2L1102.1 608.7L1102.7 619.2L1103.2 617.2L1104.2 624.3L1105.3 624.7L1106.3 635.4L1107.4 634.9L1106.9 640.4L1107.4 613.9L1108.0 640.4L1108.3 643.8L1108.6 645.3L1109.1 682.9L1109.7 645.3L1109.6 642.0L1110.9 652.3L1111.2 652.3L1111.7 636.5L1112.3 652.3L1111.9 650.1L1112.8 659.6L1112.9 656.9L1113.4 660.3L1114.0 651.4L1113.9 648.5L1115.3 652.8L1116.2 643.3L1117.4 651.1L1118.4 645.7L1118.1 647.4L1118.6 636.5L1119.2 647.4L1119.7 649.3L1121.1 643.9L1121.6 647.4L1122.1 658.6L1122.7 647.4L1122.1 649.3L1123.4 644.8L1124.3 657.0L1124.2 654.8L1124.7 643.4L1125.3 654.8L1125.3 650.2L1126.3 660.6L1127.3 646.5L1128.2 655.1L1128.6 649.7L1129.1 667.2L1129.7 649.7L1129.3 645.6L1130.4 654.6L1131.2 648.2L1131.2 649.7L1131.7 634.8L1132.3 649.7L1132.6 652.5L1133.6 645.0L1134.8 650.5L1135.9 639.0L1136.9 643.9L1136.4 642.8L1136.9 655.1L1137.5 642.8L1137.7 641.1L1138.7 649.9L1139.0 644.0L1139.5 629.5L1140.1 644.0L1139.6 639.7L1140.5 645.9L1141.8 642.2L1142.7 650.0L1143.7 642.4L1145.0 648.5L1146.3 643.7L1145.9 651.6L1146.4 654.2L1147.0 647.0L1147.5 650.1L1148.5 640.9L1148.5 641.6L1149.0 638.2L1149.6 646.9L1149.8 649.3L1151.0 643.7L1152.0 646.7L1153.2 639.1L1152.9 648.0L1153.4 649.9L1154.0 644.1L1154.5 649.5L1155.5 641.7L1156.3 647.8L1157.7 640.3L1158.1 640.0L1158.6 638.2L1159.2 643.8L1158.8 649.9L1160.1 637.0L1161.3 642.5L1162.5 637.5L1162.5 649.4L1163.0 649.9L1163.6 646.8L1163.8 649.4L1165.1 648.9L1165.1 650.9L1165.6 620.9L1166.2 650.9L1166.4 656.8L1167.3 643.7L1167.7 647.7L1168.2 691.6L1168.8 647.7L1168.5 652.2L1169.4 644.2L1170.4 652.0L1170.3 647.7L1170.8 636.5L1171.4 647.7L1171.6 642.5L1172.8 645.8L1173.8 631.6L1175.2 635.7L1176.2 632.2L1177.6 641.7L1178.9 638.3L1179.0 645.2L1179.5 631.3L1180.1 645.2L1179.9 650.1L1181.0 642.1L1180.7 649.8L1181.2 672.5L1181.8 649.8L1182.0 655.9L1183.1 648.3L1184.2 661.6L1184.2 660.2L1184.7 645.2L1185.3 660.2L1185.6 657.7L1187.0 664.9L1186.8 663.3L1187.3 667.2L1187.9 657.4L1188.3 652.9L1189.4 663.3L1190.5 650.8L1191.8 659.1L1192.8 644.6L1193.7 648.2L1194.6 638.3L1195.6 646.4L1196.4 635.5L1197.7 638.2L1198.7 627.3L1199.6 637.4L1200.6 624.1L1201.6 636.5L1202.6 625.9L1203.6 637.7L1204.1 631.0L1204.6 627.8L1205.2 636.3L1204.8 632.0L1206.0 643.5L1206.9 638.7L1206.7 647.1L1207.2 649.9L1207.8 642.4L1208.2 646.9L1209.3 640.7L1210.7 649.9L1212.0 645.4L1213.2 654.4L1214.1 643.5L1215.1 651.8L1216.2 646.7L1217.1 659.8L1217.9 652.5L1218.9 660.8L1219.9 657.2L1220.8 661.3L1222.0 652.2L1223.3 655.5L1223.3 648.5L1223.8 665.5L1224.4 648.5L1224.3 646.2L1225.2 651.3L1226.3 638.4L1225.9 637.9L1226.4 627.8L1227.0 637.9L1227.2 643.8L1228.4 628.2L1229.7 631.9L1231.0 626.2L1232.2 631.8L1233.4 626.8L1234.4 635.3L1235.7 628.8L1236.6 635.5L1237.8 629.5L1238.7 640.7L1239.6 634.1L1240.4 645.6L1241.7 643.2L1243.0 657.4L1244.0 654.7L1245.3 667.2L1246.2 659.3L1245.8 664.7L1246.3 677.7L1246.9 664.7L1247.4 668.9L1248.6 659.5L1250.0 672.2L1250.2 659.2L1250.7 655.6L1251.3 664.7L1251.2 661.7L1252.1 664.8L1253.3 656.5L1253.7 667.4L1254.2 670.7L1254.8 662.2L1254.6 668.3L1255.5 658.5L1256.5 664.2L1256.3 650.6L1256.8 648.7L1257.4 654.6L1257.8 649.3L1257.1 648.0L1257.6 675.9L1258.2 648.0L1258.9 650.3L1260.2 634.1L1261.5 638.5L1262.5 627.7L1263.2 628.2L1263.7 605.2L1264.3 628.2L1263.8 630.9L1264.9 624.6L1265.7 628.4L1267.0 620.6L1268.1 629.7L1267.6 627.1L1268.1 641.2L1268.7 627.1L1269.0 621.7L1270.1 629.5L1271.3 623.7L1272.1 638.3L1273.0 629.3L1273.6 633.0L1274.1 613.0L1274.7 633.0L1274.4 639.4L1275.3 631.3L1275.4 649.4L1275.9 653.3L1276.5 643.4L1276.5 646.9L1277.7 648.1L1278.0 660.8L1278.5 640.0L1279.1 660.8L1278.7 664.7L1279.9 665.5L1279.7 678.4L1280.2 681.1L1280.8 673.7L1281.0 678.8L1281.9 673.6L1282.7 680.9L1283.2 677.1L1283.7 696.8L1284.3 677.1L1283.8 671.4L1285.2 678.6L1286.2 672.9L1287.3 684.0L1287.5 679.1L1288.0 646.9L1288.6 679.1L1288.5 676.1L1289.7 677.8L1290.8 664.8L1291.9 662.7L1291.9 650.8L1292.4 715.9L1293.0 650.8L1293.1 646.4L1294.3 646.3L1294.5 634.4L1295.0 607.0L1295.6 634.4L1295.2 629.1L1296.3 630.7L1297.4 613.6L1298.0 606.5L1298.5 577.4L1299.1 606.5L1298.7 612.1L1300.1 603.0L1299.7 612.3L1300.2 627.3L1300.8 612.3L1301.4 618.1L1302.6 613.3L1302.3 629.0L1302.8 613.9L1303.4 629.0L1303.9 631.1L1304.7 630.0L1305.9 640.5L1307.0 632.5L1308.3 645.1L1308.4 646.9L1308.9 658.6L1309.5 646.9L1309.3 641.0L1310.5 652.8L1310.1 655.0L1310.6 638.2L1311.2 655.0L1311.7 652.8L1312.8 664.4L1313.7 653.6L1314.8 667.0L1316.1 662.1L1316.5 672.5L1317.0 675.9L1317.6 667.0L1317.3 672.8L1318.2 664.3L1319.2 674.0L1319.1 672.8L1319.6 662.6L1320.2 672.8L1320.2 669.8L1321.5 675.6L1322.6 668.0L1323.1 671.1L1323.6 682.0L1324.2 671.1L1323.8 677.4L1325.0 663.9L1325.9 670.9L1326.8 653.9L1327.9 651.5L1328.6 638.1L1329.1 653.3L1329.7 638.1L1329.2 634.0L1330.3 631.7L1331.7 615.1L1331.2 610.2L1331.7 591.3L1332.3 610.2L1333.0 612.1L1334.2 606.5L1335.3 617.4L1336.6 610.8L1336.4 620.0L1336.9 587.8L1337.5 620.0L1337.5 625.8L1338.4 622.0L1338.2 628.0L1338.7 670.7L1339.3 628.0L1339.4 631.0L1340.6 630.0L1340.8 639.6L1341.3 622.6L1341.9 639.6L1341.7 645.1L1343.0 638.6L1343.4 647.8L1343.9 649.9L1344.5 643.7L1344.2 649.5L1345.2 640.3L1346.1 653.4L1346.0 659.0L1346.5 636.5L1347.1 659.0L1347.4 656.6L1348.4 667.2L1348.6 664.2L1349.1 675.9L1349.7 664.2L1349.3 660.6L1350.3 666.0L1351.4 660.0L1352.3 669.7L1352.1 664.6L1352.6 682.9L1353.2 664.6L1353.4 663.0L1354.7 664.9L1354.7 658.4L1355.2 629.5L1355.8 658.4L1355.6 655.5L1356.5 657.6L1357.5 651.8L1357.3 653.9L1357.8 667.2L1358.4 653.9L1358.4 658.8L1359.3 653.7L1359.0 658.0L1359.5 645.2L1360.1 658.0L1360.2 661.0L1361.1 655.4L1361.6 665.4L1362.1 669.0L1362.7 659.8L1362.5 665.5L1363.5 654.2L1364.8 666.6L1366.1 660.5L1366.0 659.8L1366.5 657.3L1367.1 664.3L1367.4 668.4L1368.6 659.4L1369.4 670.5L1370.3 661.1L1370.3 667.7L1370.8 670.7L1371.4 662.7L1371.4 668.3L1372.2 654.5L1373.3 654.7L1374.3 641.5L1373.8 640.7L1374.3 663.8L1374.9 640.7L1375.1 646.5L1375.9 633.1L1376.9 631.8L1377.3 622.1L1377.8 596.5L1378.4 622.1L1378.3 615.8L1379.6 617.8L1380.9 609.3L1381.9 618.3L1382.7 614.5L1384.1 624.2L1385.4 621.4L1386.2 632.1L1387.1 631.7L1388.0 642.5L1388.9 641.5L1390.3 656.8L1391.5 652.5L1391.2 658.0L1391.7 677.7L1392.3 658.0L1392.8 663.0L1393.9 656.6L1394.8 663.1L1395.8 652.9L1396.8 662.6L1398.2 654.1L1399.1 661.7L1399.8 656.8L1400.3 645.2L1400.9 656.8L1400.4 655.0L1401.4 660.0L1401.6 653.7L1402.1 686.3L1402.7 653.7L1402.7 648.1L1403.9 657.2L1404.2 647.1L1404.7 645.2L1405.3 651.0L1404.9 649.2L1406.1 650.3L1407.4 641.0L1408.2 647.7L1409.1 636.4L1409.4 637.3L1409.9 634.8L1410.5 641.8L1410.0 648.2L1410.8 637.7L1412.1 646.3L1412.9 641.6L1413.7 648.3L1413.7 642.0L1414.2 655.1L1414.8 642.0L1414.8 636.0L1416.0 645.3L1416.9 637.3L1418.3 645.2L1419.4 632.9L1419.0 639.2L1419.5 624.3L1420.1 639.2L1420.6 642.1L1421.5 634.7L1422.9 647.2L1423.9 639.5L1424.2 642.1L1424.7 656.8L1425.3 642.1L1424.9 643.9L1426.3 638.6L1427.6 642.4L1429.0 632.6L1430.3 638.5L1431.6 632.0L1432.4 640.5L1432.0 650.2L1432.5 627.8L1433.1 650.2L1433.7 644.2L1435.0 671.2L1435.8 668.7L1435.5 681.5L1436.0 648.7L1436.6 681.5L1437.0 686.1L1438.3 680.5L1438.4 681.9L1438.9 769.7L1439.5 681.9L1439.5 686.8L1440.7 678.4L1442.0 682.9L1441.5 668.3L1442.0 646.9L1442.6 668.3L1443.1 665.9L1443.3 653.3L1443.8 622.6L1444.4 653.3L1444.5 655.3L1445.4 640.4L1446.6 645.5L1446.7 642.1L1447.2 655.1L1447.8 642.1L1447.9 637.4L1448.7 645.6L1450.0 638.0L1450.9 647.1L1452.1 637.7L1452.9 642.8L1454.3 632.1L1455.2 642.3L1456.4 633.7L1457.4 640.1L1458.4 636.5L1459.4 648.0L1460.6 641.4L1462.0 653.1L1463.4 644.5L1464.6 655.9L1464.1 655.7L1464.6 658.6L1465.2 650.7L1465.8 645.4L1467.2 652.3L1468.2 644.8L1469.5 651.6L1470.6 641.2L1471.5 651.2L1471.1 640.2L1471.6 636.5L1472.2 646.0L1472.7 639.6L1473.9 651.3L1475.1 642.7L1476.4 653.3L1476.3 655.7L1476.8 658.6L1477.4 650.7L1477.5 644.5L1478.6 655.8L1479.7 643.3L1480.6 649.2L1481.4 642.6L1482.5 651.0L1483.2 639.9L1483.7 638.2L1484.3 643.6L1483.9 641.4L1485.2 647.8L1486.5 641.6L1487.7 647.4L1488.8 643.2L1489.8 649.2L1490.2 650.8L1490.7 653.3L1491.3 646.3L1490.8 642.3L1491.9 652.2L1493.2 641.8L1493.7 648.1L1494.2 636.5L1494.8 648.1L1494.4 650.9L1495.6 643.5L1496.5 649.4L1496.3 651.3L1496.8 655.1L1497.4 645.5L1497.4 641.3L1498.3 649.2L1499.3 642.6L1500.3 648.6L1501.4 636.5L1502.6 642.6L1503.5 637.6L1504.4 649.9L1505.7 647.3L1505.5 651.6L1506.0 617.4L1506.6 651.6L1506.6 653.8L1507.7 650.3L1507.6 652.5L1508.1 703.7L1508.7 652.5L1508.9 658.1L1510.1 649.6L1510.9 660.1L1511.9 652.3L1511.9 652.9L1512.4 633.0L1513.0 652.9L1512.8 655.1L1514.1 640.9L1515.0 650.8L1515.8 642.0L1517.2 654.5L1518.3 646.0L1519.3 658.1L1520.3 650.0L1520.6 652.0L1521.1 663.8L1521.7 652.0L1521.2 656.7L1522.4 645.6L1523.2 656.9L1524.6 645.9L1524.9 650.0L1525.4 638.2L1526.0 650.0L1525.5 652.2L1526.3 644.8L1527.6 647.4L1528.7 642.5L1528.4 645.0L1528.9 655.1L1529.5 645.0L1529.9 647.0L1531.1 642.8L1531.0 648.9L1531.5 636.5L1532.1 648.9L1532.0 653.9L1533.1 644.2L1534.2 649.7L1535.2 642.2L1536.6 655.5L1536.2 649.6L1536.7 662.0L1537.3 649.6L1537.7 643.8L1537.1 647.7L1537.6 634.8L1538.2 647.7L1538.6 654.1L1539.4 638.9L1539.5 639.6L1540.0 660.3L1540.6 639.6L1540.7 643.0L1542.0 627.5L1542.9 636.4L1543.0 629.2L1543.5 619.1L1544.1 629.2L1543.7 624.3L1544.5 631.2L1545.3 621.9L1546.6 633.9L1548.0 635.2L1548.2 642.5L1548.7 616.5L1549.3 642.5L1548.9 648.7L1549.8 639.8L1551.2 653.7L1550.8 650.7L1551.3 704.6L1551.9 650.7L1552.3 648.1L1553.4 657.1L1553.4 655.7L1553.9 636.5L1554.5 655.7L1554.4 652.6L1555.3 655.6L1556.6 645.9L1557.7 647.5L1558.9 640.0L1560.0 650.5L1561.1 639.1L1562.3 650.0L1563.6 639.0L1564.6 648.9L1565.5 640.5L1566.6 651.5L1566.4 640.2L1566.9 636.5L1567.5 645.9L1567.5 643.7L1568.7 650.8L1568.2 651.3L1568.7 655.1L1569.3 645.4L1569.5 643.8L1570.5 648.6L1571.4 644.4L1572.3 649.7L1573.2 647.7L1574.2 654.6L1574.2 643.5L1574.7 640.0L1575.3 649.0L1575.4 644.5L1576.5 650.8L1577.3 645.2L1576.8 646.9L1577.3 660.3L1577.9 646.9L1578.7 652.5L1579.8 643.9L1581.1 655.1L1582.0 643.3L1582.1 647.1L1582.6 634.7L1583.2 647.1L1583.2 650.0L1584.2 643.4L1583.8 644.4L1584.3 656.8L1584.9 644.4L1585.3 650.8L1586.6 641.3L1587.4 647.3L1588.3 643.0L1589.6 648.9L1589.9 647.0L1590.4 633.9L1591.0 647.0L1590.7 643.9L1592.1 652.0L1593.0 641.9L1594.0 651.1L1594.2 647.8L1594.7 665.5L1595.3 647.8L1594.9 643.9L1595.9 651.5L1596.8 641.9L1596.8 643.5L1597.3 641.7L1597.9 647.2L1597.7 650.1L1598.8 643.1L1599.7 646.3L1600.9 636.3L1601.9 644.6L1603.1 637.4L1604.1 645.6L1605.1 636.4L1605.9 647.4L1606.9 642.1L1608.3 647.9L1609.5 638.9L1610.9 647.5L1610.7 651.2L1611.2 653.3L1611.8 647.2L1611.8 645.2L1612.8 654.8L1613.3 649.6L1613.8 633.0L1614.4 649.6L1614.0 647.3L1614.9 654.6L1616.0 646.6L1615.9 646.8L1616.4 661.1L1617.0 646.8L1617.2 649.3L1618.2 645.0L1619.5 652.7L1620.7 647.0L1621.1 641.7L1621.6 638.2L1622.2 647.2L1621.7 652.0L1623.0 637.7L1623.9 647.2L1625.0 645.9L1624.6 654.9L1625.1 656.8L1625.7 651.0L1626.3 654.4L1626.4 649.0L1626.9 622.6L1627.5 649.0L1627.3 645.0L1628.4 649.5L1629.2 638.9L1629.0 641.7L1629.5 695.0L1630.1 641.7L1630.1 647.5L1631.1 638.1L1630.7 642.4L1631.2 619.1L1631.8 642.4L1632.2 648.5L1633.2 637.9L1634.3 639.7L1635.2 628.5L1636.6 639.1L1636.8 642.5L1637.3 644.6L1637.9 638.5L1637.9 636.9L1639.2 641.2L1640.2 637.1L1641.3 648.3L1642.3 642.1L1643.2 650.8L1642.9 640.5L1643.4 636.5L1644.0 646.5L1644.0 644.7L1645.0 652.0L1646.0 642.7L1647.2 649.1L1647.2 647.7L1647.7 667.2L1648.3 647.7L1648.4 641.3L1648.9 649.8L1649.4 629.5L1650.0 649.8L1649.6 653.9L1651.0 646.9L1652.1 656.7L1653.4 646.5L1654.4 658.1L1655.2 653.7L1656.5 661.1L1657.8 650.6L1657.6 652.9L1658.1 663.8L1658.7 652.9L1659.0 658.4L1660.1 644.9L1661.2 649.3L1662.4 639.2L1663.8 641.2L1665.1 625.8L1666.2 629.1L1667.3 621.7L1668.5 636.8L1669.6 631.4L1670.6 647.0L1670.6 644.4L1671.1 607.8L1671.7 644.4L1672.0 639.5L1672.4 645.6L1672.9 700.2L1673.5 645.6L1673.4 650.7L1674.6 643.3L1675.4 650.8L1676.7 647.0L1676.7 642.7L1677.2 629.5L1677.8 642.7L1677.9 645.0L1679.2 630.4L1680.4 636.2L1681.6 631.5L1681.1 632.9L1681.6 629.5L1682.2 638.2L1682.9 640.5L1683.9 634.2L1684.5 647.4L1685.0 649.9L1685.6 642.8L1685.2 648.9L1686.3 640.0L1687.7 651.2L1688.5 644.3L1689.3 648.1L1690.1 641.6L1691.3 649.2L1692.3 639.6L1693.7 646.8L1695.1 639.7L1696.2 647.8L1696.7 639.6L1697.2 636.5L1697.8 644.8L1697.3 642.4L1698.7 650.0L1699.5 642.7L1700.2 645.5L1700.7 660.3L1701.3 645.5L1700.8 648.0L1702.0 641.8L1703.1 645.9L1704.0 635.1L1705.0 643.4L1705.4 630.5L1705.9 628.7L1706.5 634.3L1706.3 631.4L1707.1 638.3L1708.0 629.5L1708.9 641.8L1709.8 635.2L1709.7 639.7L1710.2 628.7L1710.8 639.7L1710.7 645.5L1711.8 636.7L1711.5 642.7L1712.0 660.3L1712.6 642.7L1712.7 645.7L1714.0 640.1L1715.3 650.3L1716.2 640.1L1717.2 646.9L1718.3 641.2L1719.6 648.2L1720.6 640.3L1721.7 648.5L1722.6 645.6L1723.4 653.4L1724.4 648.5L1725.5 657.0L1726.8 651.2L1727.1 663.1L1727.6 665.5L1728.2 658.8L1728.0 663.7L1728.9 654.3L1730.1 663.3L1729.7 655.7L1730.2 652.1L1730.8 661.3L1731.3 656.6L1731.5 664.0"/>
<rect class="sp" x="1051.5" y="565.4" width="712.5" height="217.4"/>
<text class="t" x="1407.8" y="546.9" font-size="38" text-anchor="middle">Recording 1896934 — Lead aVL</text>
<line class="tk" x1="1083.9" y1="782.8" x2="1083.9" y2="794.1"/>
<text class="n" x="1083.9" y="828.6" text-anchor="middle">0</text>
<line class="tk" x1="1213.4" y1="782.8" x2="1213.4" y2="794.1"/>
<text class="n" x="1213.4" y="828.6" text-anchor="middle">2</text>
<line class="tk" x1="1343.0" y1="782.8" x2="1343.0" y2="794.1"/>
<text class="n" x="1343.0" y="828.6" text-anchor="middle">4</text>
<line class="tk" x1="1472.5" y1="782.8" x2="1472.5" y2="794.1"/>
<text class="n" x="1472.5" y="828.6" text-anchor="middle">6</text>
<line class="tk" x1="1602.1" y1="782.8" x2="1602.1" y2="794.1"/>
<text class="n" x="1602.1" y="828.6" text-anchor="middle">8</text>
<line class="tk" x1="1731.6" y1="782.8" x2="1731.6" y2="794.1"/>
<text class="n" x="1731.6" y="828.6" text-anchor="middle">10</text>
<text class="t" x="1407.8" y="866.1" font-size="25.3" text-anchor="middle">Time [s]</text>
<line class="tk" x1="1040.3" y1="646.5" x2="1051.5" y2="646.5"/>
<text class="n" x="1030.1" y="658.1" text-anchor="end">0</text>
<line class="tk" x1="1040.3" y1="759.5" x2="1051.5" y2="759.5"/>
<text class="n" x="1030.1" y="771.1" text-anchor="end">−50</text>
<text class="t" font-size="25.3" text-anchor="middle" transform="translate(945.2,674.1) rotate(-90)">Volt [µV]</text>
<clipPath id="c5"><rect x="1051.5" y="953.1" width="712.5" height="217.4999999999999"/></clipPath>
<path class="tr" clip-path="url(#c5)" d="M1083.9 1061.8L1731.6 1061.8"/>
<rect class="sp" x="1051.5" y="953.1" width="712.5" height="217.5"/>
<text class="t" x="1407.8" y="934.6" font-size="38" text-anchor="middle">Recording 2853629 — Lead I</text>
<line class="tk" x1="1083.9" y1="1170.6" x2="1083.9" y2="1181.9"/>
<text class="n" x="1083.9" y="1216.4" text-anchor="middle">0</text>
<line class="tk" x1="1213.4" y1="1170.6" x2="1213.4" y2="1181.9"/>
<text class="n" x="1213.4" y="1216.4" text-anchor="middle">2</text>
<line class="tk" x1="1343.0" y1="1170.6" x2="1343.0" y2="1181.9"/>
<text class="n" x="1343.0" y="1216.4" text-anchor="middle">4</text>
<line class="tk" x1="1472.5" y1="1170.6" x2="1472.5" y2="1181.9"/>
<text class="n" x="1472.5" y="1216.4" text-anchor="middle">6</text>
<line class="tk" x1="1602.1" y1="1170.6" x2="1602.1" y2="1181.9"/>
<text class="n" x="1602.1" y="1216.4" text-anchor="middle">8</text>
<line class="tk" x1="1731.6" y1="1170.6" x2="1731.6" y2="1181.9"/>
<text class="n" x="1731.6" y="1216.4" text-anchor="middle">10</text>
<text class="t" x="1407.8" y="1253.9" font-size="25.3" text-anchor="middle">Time [s]</text>
<line class="tk" x1="1040.3" y1="962.8" x2="1051.5" y2="962.8"/>
<text class="n" x="1030.1" y="974.4" text-anchor="end">0.05</text>
<line class="tk" x1="1040.3" y1="1061.6" x2="1051.5" y2="1061.6"/>
<text class="n" x="1030.1" y="1073.2" text-anchor="end">0.00</text>
<line class="tk" x1="1040.3" y1="1160.5" x2="1051.5" y2="1160.5"/>
<text class="n" x="1030.1" y="1172.1" text-anchor="end">−0.05</text>
<text class="t" font-size="25.3" text-anchor="middle" transform="translate(914.6,1061.8) rotate(-90)">Volt [µV]</text>
</svg></body></html>
